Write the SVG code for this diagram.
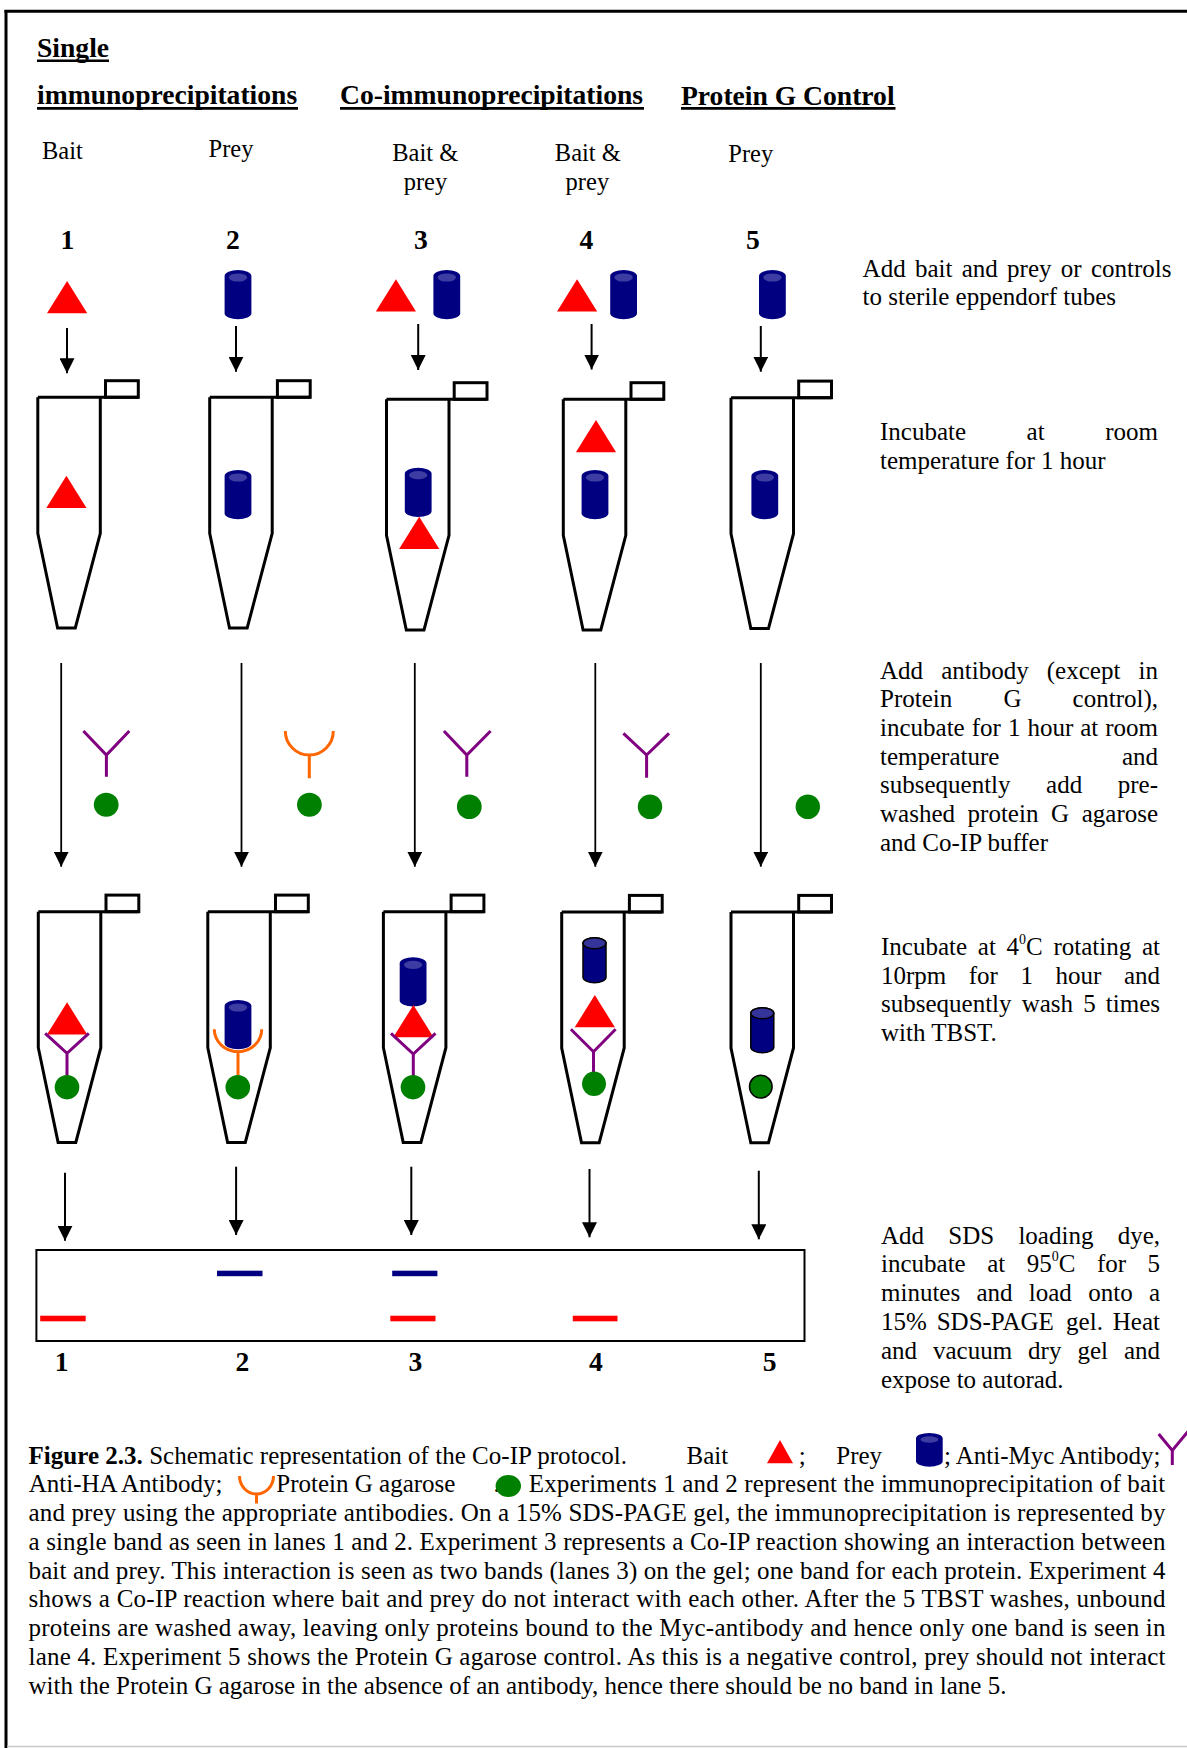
<svg xmlns="http://www.w3.org/2000/svg" width="1187" height="1748" viewBox="0 0 1187 1748">
<style>
text { font-family: "Liberation Serif", "Times New Roman", serif; fill: #000; }
.h { font-size: 27.6px; font-weight: bold; }
.lab { font-size: 24.5px; }
.num { font-size: 27.6px; font-weight: bold; text-anchor: middle; }
.step { font-size: 25px; }
.sup { font-size: 14px; }
.cap { font-size: 25px; }
.ul { stroke: #000; stroke-width: 2.6; }
.tube { fill: none; stroke: #000; stroke-width: 3; }
.arr { stroke: #000; stroke-width: 2; fill: none; marker-end: url(#ah); }
.arr2 { stroke: #000; stroke-width: 1.8; fill: none; marker-end: url(#ah); }
.bait { fill: #ff0000; }
.prey { fill: #000080; }
.ab { fill: none; stroke: #800080; stroke-width: 3; }
.pg { fill: none; stroke: #ff6600; stroke-width: 3; }
.bead { fill: #008000; }
</style>
<defs>
  <marker id="ah" viewBox="0 0 15 15" refX="15" refY="7.5" markerWidth="15" markerHeight="15" markerUnits="userSpaceOnUse" orient="auto">
    <path d="M0,0 L15,7.5 L0,15 Z" fill="#000"/>
  </marker>
  <!-- eppendorf tube: origin at top-left of the body -->
  <g id="tube" class="tube">
    <path d="M0,0 V136 L19.8,230.7 H37.5 L62.5,136 V0"/>
    <path d="M0,0 H100.5"/>
    <rect x="67.7" y="-16.6" width="32.8" height="16.6"/>
  </g>
  <!-- bait protein -->
  <polygon id="tri" class="bait" points="0,0 -20.1,32.3 20.1,32.3"/>
  <!-- prey protein -->
  <g id="cyl">
    <path class="prey" d="M-13.4,6 A13.4,6 0 0 1 13.4,6 V43.3 A13.4,6 0 0 1 -13.4,43.3 Z"/>
    <ellipse cx="0" cy="7.5" rx="9.2" ry="4.1" fill="#3c3ca2"/>
  </g>
  <g id="cylo">
    <path class="prey" stroke="#000" stroke-width="1.5" d="M-11.5,5.5 A11.5,5.5 0 0 1 11.5,5.5 V39.5 A11.5,5.5 0 0 1 -11.5,39.5 Z"/>
    <ellipse cx="0" cy="5.5" rx="11.5" ry="5.5" fill="#34349a" stroke="#000" stroke-width="1.5"/>
  </g>
</defs>

<rect width="1187" height="1748" fill="#fff"/>

<!-- frame -->
<g id="frame">
  <line x1="6" y1="10" x2="6" y2="1748" stroke="#000" stroke-width="3"/>
  <line x1="4.5" y1="11.2" x2="1187" y2="11.2" stroke="#000" stroke-width="3"/>
  <line x1="7" y1="1746.5" x2="1187" y2="1746.5" stroke="#c8c8c8" stroke-width="1.5"/>
</g>

<!-- column headings -->
<g id="headings">
  <text class="h" x="37" y="56.5">Single</text>
  <line class="ul" x1="37" y1="60.7" x2="109" y2="60.7"/>
  <text class="h" x="37" y="104.3">immunoprecipitations</text>
  <line class="ul" x1="37" y1="108.4" x2="298" y2="108.4"/>
  <text class="h" x="340" y="104.3">Co-immunoprecipitations</text>
  <line class="ul" x1="340" y1="108.4" x2="644" y2="108.4"/>
  <text class="h" x="681" y="104.8">Protein G Control</text>
  <line class="ul" x1="681" y1="108.4" x2="895.5" y2="108.4"/>
</g>

<g id="sample-labels">
  <text class="lab" x="42" y="158.5">Bait</text>
  <text class="lab" x="208.5" y="156.5">Prey</text>
  <text class="lab" x="392.2" y="160.5">Bait &amp;</text>
  <text class="lab" x="403.7" y="189.5">prey</text>
  <text class="lab" x="554.8" y="160.5">Bait &amp;</text>
  <text class="lab" x="565.6" y="189.5">prey</text>
  <text class="lab" x="728.3" y="162">Prey</text>
</g>

<g id="tube-numbers">
  <text class="num" x="67.3" y="249.3">1</text>
  <text class="num" x="233" y="249.3">2</text>
  <text class="num" x="421" y="249.3">3</text>
  <text class="num" x="586.5" y="249.3">4</text>
  <text class="num" x="753" y="249.3">5</text>
</g>

<!-- step 1: proteins added -->
<g id="add-1"><use href="#tri" x="67.1" y="281"/></g>
<g id="add-2"><use href="#cyl" x="238" y="270"/></g>
<g id="add-3"><use href="#tri" x="395.9" y="279.3"/><use href="#cyl" x="446.8" y="270"/></g>
<g id="add-4"><use href="#tri" x="577.1" y="279.3"/><use href="#cyl" x="623.6" y="270"/></g>
<g id="add-5"><use href="#cyl" x="772.4" y="270"/></g>

<!-- step 2: incubation tubes -->
<g id="tube-a1"><use href="#tube" x="37.8" y="397.3"/><use href="#tri" x="66.4" y="475.7"/></g>
<g id="tube-a2"><use href="#tube" x="209.7" y="397.3"/><use href="#cyl" x="238" y="470"/></g>
<g id="tube-a3"><use href="#tube" x="386.5" y="399.3"/><use href="#cyl" x="418.2" y="467.7"/><use href="#tri" x="419.2" y="516.7"/></g>
<g id="tube-a4"><use href="#tube" x="563.3" y="399.3"/><use href="#tri" x="596" y="420"/><use href="#cyl" x="595" y="470"/></g>
<g id="tube-a5"><use href="#tube" x="731" y="397.7"/><use href="#cyl" x="764.8" y="470"/></g>

<!-- step 3: antibody and protein G agarose -->
<g id="reagent-1">
  <path class="ab" d="M83.4,731 L106.4,755 L129.3,731 M106.4,755 V776.7"/>
  <ellipse class="bead" cx="106.2" cy="804.7" rx="12.4" ry="12"/>
</g>
<g id="reagent-2">
  <path class="pg" d="M285.3,731 A24,24 0 0 0 333.3,731 M309.3,755 V778.3"/>
  <ellipse class="bead" cx="309.4" cy="804.7" rx="12.4" ry="12"/>
</g>
<g id="reagent-3">
  <path class="ab" d="M443.9,731 L466.8,755 L490.6,731 M466.8,755 V776.7"/>
  <ellipse class="bead" cx="469.3" cy="806.7" rx="12.4" ry="12.3"/>
</g>
<g id="reagent-4">
  <path class="ab" d="M623.4,733.3 L646.6,755 L669,733.3 M646.6,755 V777.7"/>
  <ellipse class="bead" cx="650" cy="806.7" rx="12.2" ry="12.3"/>
</g>
<g id="reagent-5">
  <ellipse class="bead" cx="807.8" cy="806.7" rx="12.2" ry="12.3"/>
</g>

<!-- step 4: rotation and wash tubes -->
<g id="tube-b1">
  <use href="#tube" x="38.3" y="911.7"/>
  <use href="#tri" x="67.1" y="1002.3"/>
  <path class="ab" d="M45.2,1033.3 L67,1053.3 L88.8,1033.3 M67,1053.3 V1076.7"/>
  <ellipse class="bead" cx="67" cy="1087.2" rx="12.3" ry="12.2"/>
</g>
<g id="tube-b2">
  <use href="#tube" x="207.8" y="911.7"/>
  <use href="#cyl" x="238" y="1000"/>
  <path class="pg" d="M214.3,1029.3 A23.7,22.4 0 0 0 261.7,1029.3 M238,1051.7 V1075"/>
  <ellipse class="bead" cx="237.8" cy="1087.2" rx="12.3" ry="12.2"/>
</g>
<g id="tube-b3">
  <use href="#tube" x="383.4" y="911.7"/>
  <use href="#cyl" x="413.1" y="957.3"/>
  <use href="#tri" x="413.4" y="1005"/>
  <path class="ab" d="M391,1033.3 L413.3,1054 L435.5,1033.3 M413.3,1054 V1076.7"/>
  <ellipse class="bead" cx="413" cy="1087.2" rx="12.3" ry="12.2"/>
</g>
<g id="tube-b4">
  <use href="#tube" x="561.7" y="912"/>
  <use href="#cylo" x="594.5" y="937.8"/>
  <use href="#tri" x="594.8" y="995"/>
  <path class="ab" d="M570.9,1029.3 L593.5,1051.7 L615.6,1029.3 M593.5,1051.7 V1072.7"/>
  <ellipse class="bead" cx="594" cy="1083.8" rx="12" ry="12.2"/>
</g>
<g id="tube-b5">
  <use href="#tube" x="731" y="912"/>
  <use href="#cylo" x="762.3" y="1007.8"/>
  <ellipse class="bead" cx="760.8" cy="1086.7" rx="11.3" ry="11.4" stroke="#000" stroke-width="1.5"/>
</g>

<!-- step 5: SDS-PAGE gel -->
<g id="gel">
  <rect x="36.4" y="1250" width="768.1" height="91" fill="none" stroke="#000" stroke-width="2"/>
  <rect class="prey" x="217" y="1270.7" width="45.5" height="5.5"/>
  <rect class="prey" x="392.2" y="1270.7" width="45.2" height="5.5"/>
  <rect class="bait" x="40.2" y="1315.7" width="45.5" height="5.6"/>
  <rect class="bait" x="390.3" y="1315.7" width="45.2" height="5.6"/>
  <rect class="bait" x="572.8" y="1315.7" width="44.7" height="5.6"/>
</g>
<g id="lane-numbers">
  <text class="num" x="61.7" y="1370.5">1</text>
  <text class="num" x="242.4" y="1370.5">2</text>
  <text class="num" x="415.3" y="1370.5">3</text>
  <text class="num" x="596" y="1370.5">4</text>
  <text class="num" x="769.7" y="1370.5">5</text>
</g>

<!-- process arrows -->
<g id="connectors">
  <line class="arr" x1="67" y1="328" x2="67" y2="373.3"/>
  <line class="arr" x1="236" y1="326" x2="236" y2="371.7"/>
  <line class="arr" x1="418.2" y1="324" x2="418.2" y2="370"/>
  <line class="arr" x1="591.6" y1="324" x2="591.6" y2="369.5"/>
  <line class="arr" x1="760.8" y1="326" x2="760.8" y2="371.7"/>

  <line class="arr2" x1="61.2" y1="663" x2="61.2" y2="866.7"/>
  <line class="arr2" x1="241.5" y1="663" x2="241.5" y2="866.7"/>
  <line class="arr2" x1="414.8" y1="663" x2="414.8" y2="866.7"/>
  <line class="arr2" x1="595.3" y1="663" x2="595.3" y2="866.7"/>
  <line class="arr2" x1="760.8" y1="663" x2="760.8" y2="866.7"/>

  <line class="arr" x1="65" y1="1172.7" x2="65" y2="1240.7"/>
  <line class="arr" x1="236.1" y1="1166.7" x2="236.1" y2="1235"/>
  <line class="arr" x1="411.3" y1="1166.7" x2="411.3" y2="1235"/>
  <line class="arr" x1="589.5" y1="1169" x2="589.5" y2="1237.3"/>
  <line class="arr" x1="758.8" y1="1170.7" x2="758.8" y2="1239.3"/>
</g>

<!-- step descriptions (justified) -->
<g id="step-1-text" class="step">
  <text y="277"><tspan x="862.6">Add</tspan><tspan x="914.9">bait</tspan><tspan x="961.7">and</tspan><tspan x="1007.1">prey</tspan><tspan x="1060.8">or</tspan><tspan x="1091">controls</tspan></text>
  <text x="862.6" y="305">to sterile eppendorf tubes</text>
</g>
<g id="step-2-text" class="step">
  <text y="440"><tspan x="880">Incubate</tspan><tspan x="1026.6">at</tspan><tspan x="1105.2">room</tspan></text>
  <text x="880" y="468.5">temperature for 1 hour</text>
</g>
<g id="step-3-text" class="step">
  <text y="678.5"><tspan x="880">Add</tspan><tspan x="941.2">antibody</tspan><tspan x="1046.8">(except</tspan><tspan x="1138.5">in</tspan></text>
  <text y="707.2"><tspan x="880">Protein</tspan><tspan x="1003.4">G</tspan><tspan x="1072.6">control),</tspan></text>
  <text y="735.9"><tspan x="880">incubate</tspan><tspan x="971.7">for</tspan><tspan x="1007.9">1</tspan><tspan x="1027.4">hour</tspan><tspan x="1080.2">at</tspan><tspan x="1105.2">room</tspan></text>
  <text y="764.6"><tspan x="880">temperature</tspan><tspan x="1121.9">and</tspan></text>
  <text y="793.3"><tspan x="880">subsequently</tspan><tspan x="1046.1">add</tspan><tspan x="1117.8">pre-</tspan></text>
  <text y="822"><tspan x="880">washed</tspan><tspan x="967.6">protein</tspan><tspan x="1051">G</tspan><tspan x="1081.7">agarose</tspan></text>
  <text x="880" y="850.7">and Co-IP buffer</text>
</g>
<g id="step-4-text" class="step">
  <text y="955"><tspan x="881">Incubate</tspan><tspan x="977.8">at</tspan><tspan x="1006.6">4</tspan><tspan class="sup" x="1019.1" y="943.5">0</tspan><tspan x="1026.1" y="955">C</tspan><tspan x="1053.5">rotating</tspan><tspan x="1142">at</tspan></text>
  <text y="983.6"><tspan x="881">10rpm</tspan><tspan x="968.8">for</tspan><tspan x="1020.5">1</tspan><tspan x="1055.6">hour</tspan><tspan x="1123.9">and</tspan></text>
  <text y="1012.2"><tspan x="881">subsequently</tspan><tspan x="1021.7">wash</tspan><tspan x="1083.2">5</tspan><tspan x="1105.8">times</tspan></text>
  <text x="881" y="1040.8">with TBST.</text>
</g>
<g id="step-5-text" class="step">
  <text y="1243.5"><tspan x="881">Add</tspan><tspan x="948.3">SDS</tspan><tspan x="1018.4">loading</tspan><tspan x="1117.7">dye,</tspan></text>
  <text y="1272.3"><tspan x="881">incubate</tspan><tspan x="987.2">at</tspan><tspan x="1026.7">95</tspan><tspan class="sup" x="1051.7" y="1260.8">0</tspan><tspan x="1058.7" y="1272.3">C</tspan><tspan x="1096.9">for</tspan><tspan x="1147.5">5</tspan></text>
  <text y="1301.1"><tspan x="881">minutes</tspan><tspan x="976.5">and</tspan><tspan x="1028.8">load</tspan><tspan x="1088.2">onto</tspan><tspan x="1148.9">a</tspan></text>
  <text y="1329.9"><tspan x="881">15%</tspan><tspan x="936.7">SDS-PAGE</tspan><tspan x="1066.1">gel.</tspan><tspan x="1112.8">Heat</tspan></text>
  <text y="1358.7"><tspan x="881">and</tspan><tspan x="933">vacuum</tspan><tspan x="1028.1">dry</tspan><tspan x="1077.4">gel</tspan><tspan x="1123.9">and</tspan></text>
  <text x="881" y="1387.5">expose to autorad.</text>
</g>

<!-- figure legend -->
<g id="legend" class="cap">
  <text class="cap" x="28.5" y="1463.5" textLength="598.5" lengthAdjust="spacing"><tspan font-weight="bold">Figure 2.3.</tspan> Schematic representation of the Co-IP protocol.</text>
  <text class="cap" x="686.5" y="1463.5">Bait</text>
  <polygon class="bait" points="780,1440 767,1463.3 793,1463.3"/>
  <text class="cap" x="798.7" y="1463.5">;</text>
  <text class="cap" x="836.3" y="1463.5">Prey</text>
  <path class="prey" d="M916,1438.5 A13.35,5.5 0 0 1 942.7,1438.5 V1461.2 A13.35,5.5 0 0 1 916,1461.2 Z"/>
  <ellipse cx="929.4" cy="1439.5" rx="9" ry="3.2" fill="#3c3ca2"/>
  <text class="cap" x="943.9" y="1463.5">; Anti-Myc Antibody;</text>
  <path class="ab" d="M1158.7,1434 L1172.3,1450.5 L1188,1431.5 M1172.3,1450.5 V1465"/>

  <text class="cap" x="28.7" y="1492.25">Anti-HA Antibody;</text>
  <path class="pg" d="M239.5,1476 A17,18 0 0 0 273.5,1476 M256.5,1494 V1503.5"/>
  <text class="cap" x="276.3" y="1492.25">Protein G agarose</text>
  <text class="cap" x="493.5" y="1492.25">.</text>
  <ellipse class="bead" cx="508.3" cy="1486" rx="12.7" ry="11"/>
  <text class="cap" x="528.8" y="1492.25" textLength="636.5" lengthAdjust="spacing">Experiments 1 and 2 represent the immunoprecipitation of bait</text>

  <text class="cap" x="28.5" y="1521" textLength="1137" lengthAdjust="spacing">and prey using the appropriate antibodies. On a 15% SDS-PAGE gel, the immunoprecipitation is represented by</text>
  <text class="cap" x="28.5" y="1549.75" textLength="1137" lengthAdjust="spacing">a single band as seen in lanes 1 and 2. Experiment 3 represents a Co-IP reaction showing an interaction between</text>
  <text class="cap" x="28.5" y="1578.5" textLength="1137" lengthAdjust="spacing">bait and prey. This interaction is seen as two bands (lanes 3) on the gel; one band for each protein. Experiment 4</text>
  <text class="cap" x="28.5" y="1607.25" textLength="1137" lengthAdjust="spacing">shows a Co-IP reaction where bait and prey do not interact with each other. After the 5 TBST washes, unbound</text>
  <text class="cap" x="28.5" y="1636" textLength="1137" lengthAdjust="spacing">proteins are washed away, leaving only proteins bound to the Myc-antibody and hence only one band is seen in</text>
  <text class="cap" x="28.5" y="1664.75" textLength="1137" lengthAdjust="spacing">lane 4. Experiment 5 shows the Protein G agarose control. As this is a negative control, prey should not interact</text>
  <text class="cap" x="28.5" y="1693.5">with the Protein G agarose in the absence of an antibody, hence there should be no band in lane 5.</text>
</g>
</svg>
